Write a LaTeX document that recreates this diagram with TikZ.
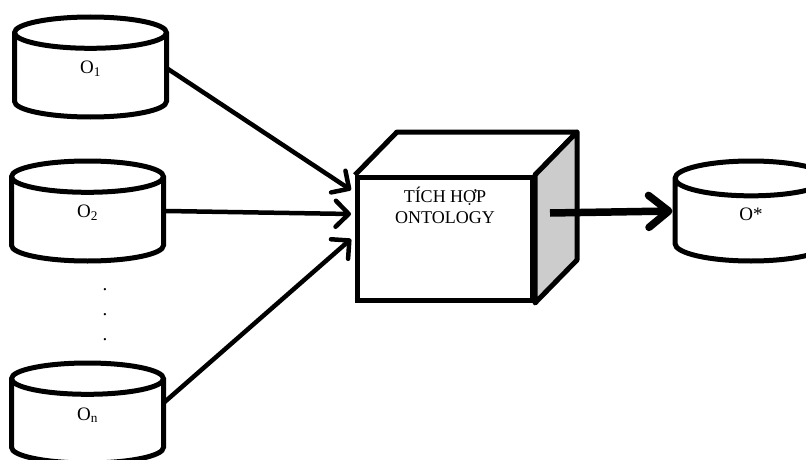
\documentclass[tikz,border=0pt]{standalone}
\usepackage{fontspec}
\setmainfont{Liberation Serif}
\usetikzlibrary{arrows.meta,positioning,calc,shapes.geometric}

\newcommand{\dblabel}[1]{\raisebox{7pt}[\height][\depth]{#1}}

\tikzset{
 db/.style={cylinder,shape border rotate=90,draw,line width=5pt,aspect=1.5,
  minimum width=152pt,minimum height=100pt,inner sep=0pt,anchor=shape center,
  font=\fontsize{19}{22}\selectfont},
 feed/.style={line width=4.5pt,-{Straight Barb[round,length=13pt,width=26pt]}},
 result/.style={line width=7.5pt,-{Straight Barb[round,length=20pt,width=32pt]}},
}

\begin{document}
\begin{tikzpicture}[x=1pt,y=-1pt]
 \useasboundingbox (0,0) rectangle (806,460);
 \clip (0,0) rectangle (806,460);
 % source ontologies
 \node[db] (o1) at (90.5,67) {\dblabel{O\textsubscript{1}}};
 \node[db] (o2) at (87.5,211) {\dblabel{O\textsubscript{2}}};
 \node[db] (on) at (87.5,413) {\dblabel{O\textsubscript{n}}};
 \foreach \y in {290,315,340}
  \node[inner sep=0pt,font=\fontsize{19}{22}\selectfont] (dot\y) at (105,\y) {.};
 % merging box, front face first
 \node[draw,fill=white,line width=5pt,minimum width=175pt,minimum height=123pt,
  inner sep=0pt] (box) at (445,239) {};
 \coordinate (bnw) at ($(box.north west)+(42,-43)$);
 \coordinate (bne) at ($(box.north east)+(42,-43)$);
 \coordinate (bse) at ($(box.south east)+(42,-43)$);
 \draw[line width=5pt,line join=round] (box.north west) -- (bnw) -- (bne)
  -- (box.north east);
 \filldraw[fill=black!20,line width=5pt,line join=round] (box.north east)
  -- (bne) -- (bse) -- (box.south east) -- cycle;
 \node[below=12pt of box.north,align=center,inner sep=0pt,
  font=\fontsize{18}{21}\selectfont] (title) {TÍCH HỢP\\ONTOLOGY};
 % merged ontology
 \node[db] (ostar) at (751,211) {\dblabel{O*}};
 % connectors
 \draw[feed] ($(o1.shape center)+(76,1)$) -- ($(box.west)+(-4,-49)$);
 \draw[feed] (o2.shape center -| o2.east) -- ($(box.west)+(-4,-25)$);
 \draw[feed] ($(on.shape center)+(76,-10)$) -- ($(box.west)+(-4,0)$);
 \coordinate (out) at ($(box.east)+(15,-26)$);
 \draw[result] (out) -- (ostar.shape center -| ostar.west);
\end{tikzpicture}
\end{document}
